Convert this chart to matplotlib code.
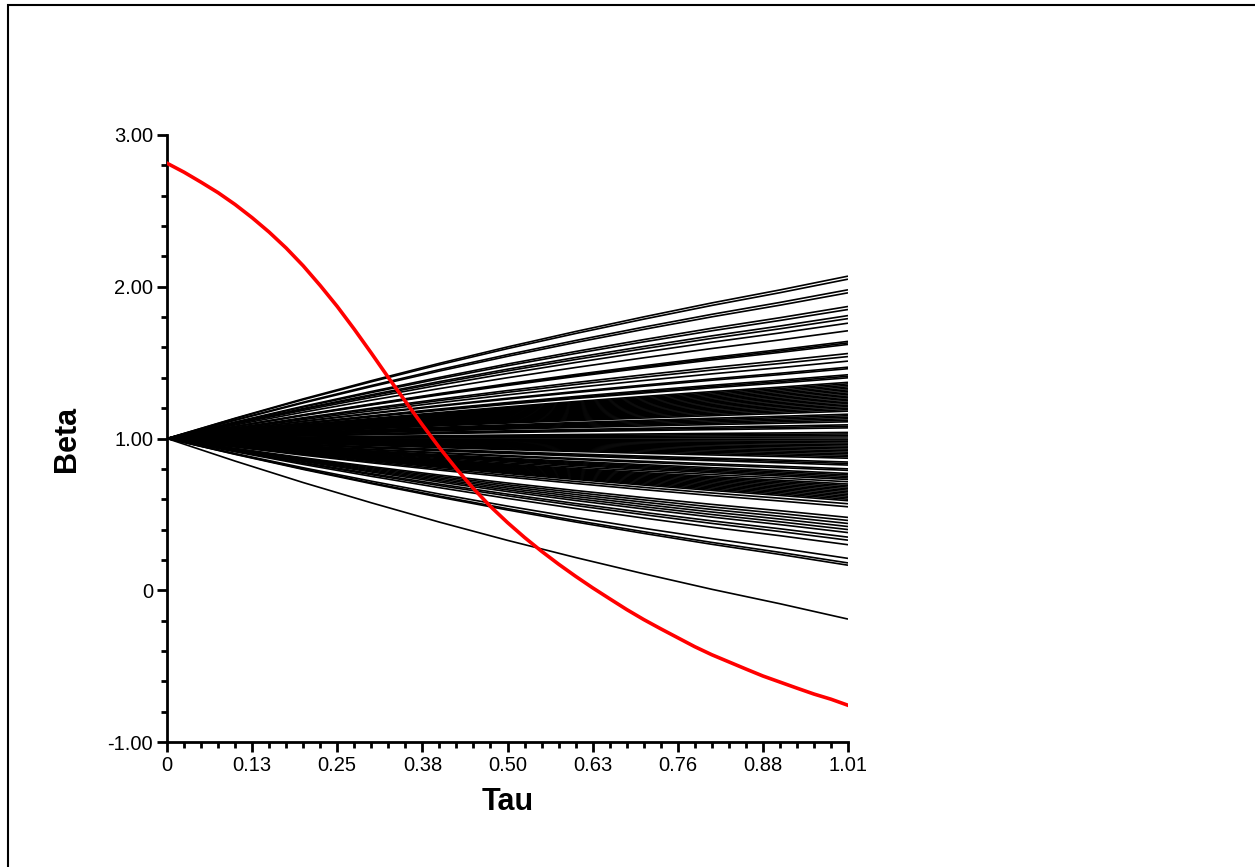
import matplotlib
matplotlib.use("Agg")
import matplotlib.pyplot as plt
from matplotlib.patches import Rectangle
from matplotlib.ticker import FixedLocator, AutoMinorLocator

plt.rcParams['font.family'] = ['Liberation Sans', 'DejaVu Sans']

# Grid of maturities shared by the fan of beta paths
tau_grid = [0.0, 0.101, 0.202, 0.303, 0.404, 0.505, 0.606, 0.707, 0.808, 0.909, 1.01]
# Fraction of each path's total move reached at each maturity
path_profile = [0.0, 0.125, 0.244, 0.356, 0.463, 0.564, 0.659, 0.749, 0.835, 0.915, 1.0]
# Starting beta common to all paths
beta_start = 1.0
# Beta value of each path at the last maturity
beta_end = [2.07, 2.05, 1.98, 1.96, 1.87, 1.85, 1.81, 1.79, 1.76, 1.71, 1.64, 1.63,
            1.62, 1.56, 1.54, 1.51, 1.47, 1.46, 1.42, 1.41, 1.40,
            1.37, 1.36, 1.35, 1.34, 1.33, 1.32, 1.31, 1.30, 1.29, 1.28, 1.27, 1.26,
            1.25, 1.24, 1.23, 1.22, 1.21, 1.20, 1.19, 1.18, 1.16, 1.15, 1.14, 1.13,
            1.12, 1.11, 1.09, 1.08, 1.07, 1.04, 1.03, 1.02, 1.01, 1.00, 0.99, 0.98,
            0.97, 0.96, 0.95, 0.94, 0.93, 0.92, 0.91, 0.90, 0.89, 0.88, 0.87, 0.845,
            0.835, 0.825, 0.80, 0.79, 0.77, 0.76, 0.75, 0.74, 0.73, 0.715, 0.70, 0.69,
            0.68, 0.67, 0.66, 0.65, 0.64, 0.63, 0.62, 0.61, 0.60, 0.59, 0.57, 0.55,
            0.48, 0.46, 0.44, 0.42, 0.40, 0.38, 0.35, 0.33, 0.30, 0.21, 0.18, 0.165,
            -0.19]

# Highlighted beta path, sampled every 0.02525 in tau
red_tau = [0.0, 0.02525, 0.0505, 0.07575, 0.101, 0.12625, 0.1515, 0.17675, 0.202,
           0.22725, 0.2525, 0.27775, 0.303, 0.32825, 0.3535, 0.37875, 0.404, 0.42925,
           0.4545, 0.47975, 0.505, 0.53025, 0.5555, 0.58075, 0.606, 0.63125, 0.6565,
           0.68175, 0.707, 0.73225, 0.7575, 0.78275, 0.808, 0.83325, 0.8585, 0.88375,
           0.909, 0.93425, 0.9595, 0.98475, 1.01]
red_beta = [2.814, 2.755, 2.689, 2.620, 2.542, 2.455, 2.360, 2.255, 2.138, 2.008,
            1.870, 1.720, 1.563, 1.402, 1.245, 1.090, 0.940, 0.800, 0.670, 0.552,
            0.446, 0.348, 0.257, 0.172, 0.092, 0.016, -0.056, -0.127, -0.193, -0.254,
            -0.313, -0.372, -0.425, -0.472, -0.519, -0.565, -0.605, -0.645, -0.684,
            -0.718, -0.758]

x_ticks = [0, 0.12625, 0.2525, 0.37875, 0.505, 0.63125, 0.7575, 0.88375, 1.01]
x_labels = ["0", "0.13", "0.25", "0.38", "0.50", "0.63", "0.76", "0.88", "1.01"]
y_ticks = [-1, 0, 1, 2, 3]
y_labels = ["-1.00", "0", "1.00", "2.00", "3.00"]

fig = plt.figure(figsize=(12.55, 8.67), dpi=100)
ax = fig.add_axes([167 / 1255, 1 - 742 / 867, (848 - 167) / 1255, (742 - 135) / 867])

for end in beta_end:
    ys = [beta_start + (end - beta_start) * f for f in path_profile]
    ax.plot(tau_grid, ys, color='black', lw=1.2, solid_capstyle='butt')

ax.plot(red_tau, red_beta, color='#ff0000', lw=2.6, zorder=5,
        solid_joinstyle='round')

ax.set_xlim(0, 1.01)
ax.set_ylim(-1, 3)
ax.xaxis.set_major_locator(FixedLocator(x_ticks))
ax.set_xticklabels(x_labels)
ax.yaxis.set_major_locator(FixedLocator(y_ticks))
ax.set_yticklabels(y_labels)
ax.xaxis.set_minor_locator(AutoMinorLocator(5))
ax.yaxis.set_minor_locator(AutoMinorLocator(5))

for side in ('top', 'right'):
    ax.spines[side].set_visible(False)
for side in ('left', 'bottom'):
    ax.spines[side].set_linewidth(2.0)

ax.tick_params(which='major', direction='out', length=7.5, width=2.0,
               labelsize=14.5, pad=2.5, colors='black')
ax.tick_params(which='minor', direction='out', length=4.5, width=2.0)

ax.set_xlabel("Tau", fontsize=22, fontweight='bold', labelpad=9)
ax.set_ylabel("Beta", fontsize=22, fontweight='bold', labelpad=18)

# Frame around the whole figure
fig.add_artist(Rectangle((8 / 1255, -0.1), 1.2, 1.1 - 5 / 867,
                         transform=fig.transFigure, fill=False,
                         edgecolor='black', lw=1.5))

fig.savefig("out.png", dpi=100)
